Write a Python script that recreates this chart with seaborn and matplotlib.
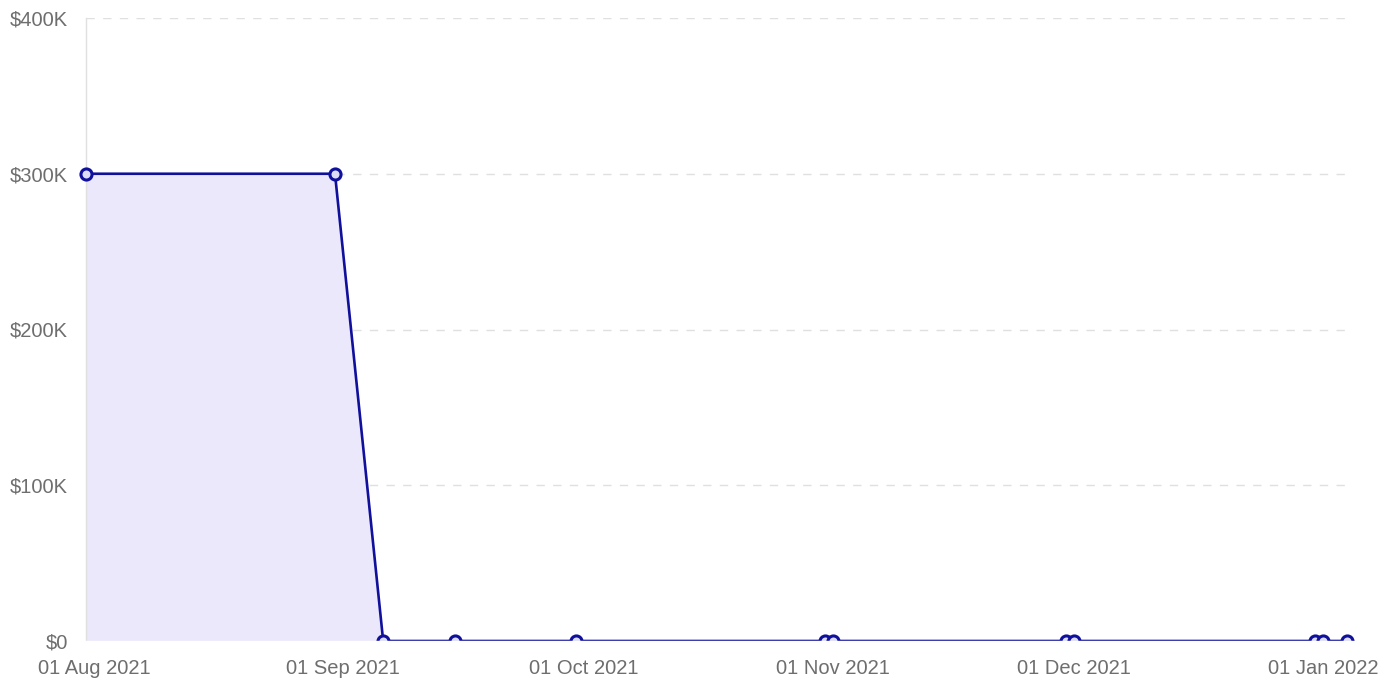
import pandas as pd
import numpy as np
import matplotlib
matplotlib.use("Agg")
import matplotlib.pyplot as plt
from matplotlib.patches import Rectangle
from matplotlib.transforms import Bbox, TransformedBbox
import seaborn as sns

# --- data ---
dates = ["2021-07-31", "2021-08-31", "2021-09-06", "2021-09-15", "2021-09-30",
         "2021-10-31", "2021-11-01", "2021-11-30", "2021-12-01",
         "2021-12-31", "2022-01-01", "2022-01-04"]
values = [300000, 300000, 0, 0, 0, 0, 0, 0, 0, 0, 0, 0]
tick_dates = ["2021-08-01", "2021-09-01", "2021-10-01", "2021-11-01", "2021-12-01", "2022-01-01"]
tick_labels = ["01 Aug 2021", "01 Sep 2021", "01 Oct 2021", "01 Nov 2021", "01 Dec 2021", "01 Jan 2022"]
y_ticks = [0, 100000, 200000, 300000, 400000]
y_labels = ["$0", "$100K", "$200K", "$300K", "$400K"]

df = pd.DataFrame({"date": pd.to_datetime(dates), "value": values})

sns.set_style("white")
plt.rcParams['font.family'] = ['Liberation Sans', 'DejaVu Sans']

line_color = "#10109c"
fill_color = "#ebe8fb"
grid_color = "#e0e0e0"
text_color = "#6e6e6e"

W, H = 1397, 688
fig = plt.figure(figsize=(W / 100, H / 100), dpi=100)
ax = fig.add_axes([86 / W, 1 - 641 / H, (1347 - 86) / W, (641 - 18) / H])

ax.fill_between(df["date"], df["value"], 0, color=fill_color, linewidth=0, zorder=1)
sns.lineplot(data=df, x="date", y="value", ax=ax, color=line_color, linewidth=1.9,
             marker="o", markersize=8, markerfacecolor="#dcdcf5",
             markeredgecolor=line_color, markeredgewidth=2.2, zorder=3)

# markers at the sides stay whole
clip = TransformedBbox(Bbox([[-0.03, 0.0], [1.03, 1.05]]), ax.transAxes)
for ln in ax.lines:
    ln.set_clip_box(clip)

# the plot area cuts the marks at the bottom edge
fig.add_artist(Rectangle((76 / W, (H - 649) / H), (W - 76) / W, 8 / H,
                         transform=fig.transFigure, color="white", zorder=5))

ax.set_xlim(pd.Timestamp("2021-07-31"), pd.Timestamp("2022-01-04"))
ax.set_ylim(0, 400000)

ax.set_yticks(y_ticks)
ax.set_yticklabels(y_labels)
ax.set_xticks(pd.to_datetime(tick_dates))
ax.set_xticklabels(tick_labels)

for y in y_ticks:
    ax.axhline(y, color=grid_color, linewidth=1, linestyle=(0, (6, 6)), zorder=0)

for s in ["top", "right", "bottom"]:
    ax.spines[s].set_visible(False)
ax.spines["left"].set_color(grid_color)
ax.spines["left"].set_linewidth(1)

ax.tick_params(axis="both", length=0, labelsize=14.5, colors=text_color)
ax.tick_params(axis="y", pad=13)
ax.tick_params(axis="x", pad=13)
ax.set_xlabel("")
ax.set_ylabel("")

fig.savefig("out.png", dpi=100)
